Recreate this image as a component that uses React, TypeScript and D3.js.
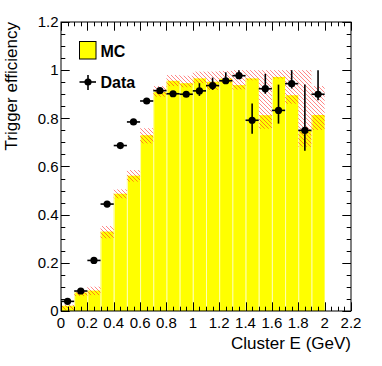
import * as d3 from 'd3'

// bin edges (GeV) and centers
const binLow = [0, 0.1, 0.2, 0.3, 0.4, 0.5, 0.6, 0.7, 0.8, 0.9, 1.0, 1.1, 1.2, 1.3, 1.4, 1.5, 1.6, 1.7, 1.8, 1.9]
const binCenter = [0.05, 0.15, 0.25, 0.35, 0.45, 0.55, 0.65, 0.75, 0.85, 0.95, 1.05, 1.15, 1.25, 1.35, 1.45, 1.55, 1.65, 1.75, 1.85, 1.95]
const binWidth = 0.1

// MC efficiency with its uncertainty band
const mcValue = [0.022, 0.077, 0.085, 0.33, 0.487, 0.562, 0.73, 0.91, 0.956, 0.946, 0.966, 0.952, 0.965, 0.938, 0.966, 0.813, 0.972, 0.896, 0.752, 0.814]
const mcLow = [0.005, 0.062, 0.066, 0.302, 0.468, 0.537, 0.696, 0.89, 0.934, 0.929, 0.946, 0.918, 0.946, 0.92, 0.958, 0.757, 0.965, 0.861, 0.682, 0.752]
const mcHigh = [0.026, 0.081, 0.101, 0.353, 0.505, 0.585, 0.759, 0.934, 0.98, 0.977, 0.994, 0.994, 0.997, 1.0, 1.0, 1.0, 1.0, 1.0, 1.0, 0.934]

// data efficiency
const dataY = [0.04, 0.083, 0.21, 0.444, 0.687, 0.785, 0.872, 0.915, 0.902, 0.9, 0.914, 0.936, 0.956, 0.977, 0.792, 0.923, 0.833, 0.944, 0.75, 0.9]
const dataErrUp = [0.005, 0.006, 0.008, 0.01, 0.01, 0.01, 0.008, 0.008, 0.008, 0.01, 0.032, 0.033, 0.035, 0.023, 0.07, 0.062, 0.107, 0.056, 0.19, 0.1]
const dataErrDown = [0.005, 0.006, 0.008, 0.01, 0.01, 0.01, 0.008, 0.008, 0.008, 0.01, 0.021, 0.018, 0.01, 0.01, 0.056, 0.021, 0.055, 0.02, 0.085, 0.025]

const xTicks = [0, 0.2, 0.4, 0.6, 0.8, 1, 1.2, 1.4, 1.6, 1.8, 2, 2.2]
const yTicks = [0, 0.2, 0.4, 0.6, 0.8, 1, 1.2]

const font = 'Liberation Sans, Arial, Helvetica, sans-serif'

export default function App() {
  const W = 382
  const H = 366
  const left = 61, right = 351, top = 22, bottom = 311

  const x = d3.scaleLinear().domain([0, 2.2]).range([left, right])
  const y = d3.scaleLinear().domain([0, 1.2]).range([bottom, top])

  const xMinor = d3.range(0, 2.2001, 0.05)
  const yMinor = d3.range(0, 1.2001, 0.05)
  const majLen = 8.7
  const minLen = 4.3

  const isMajor = (v: number) => Math.abs(v / 0.2 - Math.round(v / 0.2)) < 1e-6

  return (
    <svg width={W} height={H} style={{ position: 'absolute', left: 0, top: 0, background: '#fff' }}>
      <defs>
        <pattern id="hatch" patternUnits="userSpaceOnUse" width="4" height="4">
          <path d="M-1,-1 L5,5 M-1,3 L1,5 M3,-1 L5,1" stroke="#ff2020" strokeWidth="0.9" strokeOpacity="0.6" />
        </pattern>
        <clipPath id="frame">
          <rect x={left} y={top} width={right - left} height={bottom - top} />
        </clipPath>
      </defs>

      {/* MC bars */}
      <g clipPath="url(#frame)">
        {binLow.map((b, i) => (
          <rect key={'b' + i} x={x(b)} y={y(mcValue[i])} width={x(b + binWidth) - x(b)} height={y(0) - y(mcValue[i])} fill="#ffff00" />
        ))}
        {binLow.map((b, i) => i > 0 ? (
          <line key={'s' + i} x1={x(b) + 0.5} x2={x(b) + 0.5} y1={y(0)} y2={y(mcValue[i])} stroke="#ffffb8" strokeWidth={1} />
        ) : null)}
        {binLow.map((b, i) => (
          <rect key={'h' + i} x={x(b)} y={y(mcHigh[i])} width={x(b + binWidth) - x(b)} height={y(mcLow[i]) - y(mcHigh[i])} fill="url(#hatch)" />
        ))}
      </g>

      {/* data points */}
      <g>
        {binCenter.map((c, i) => (
          <g key={'d' + i}>
            <line x1={x(c - binWidth / 2)} x2={x(c + binWidth / 2)} y1={y(dataY[i])} y2={y(dataY[i])} stroke="#000" strokeWidth={1.6} />
            <line x1={x(c)} x2={x(c)} y1={y(dataY[i] + dataErrUp[i])} y2={y(dataY[i] - dataErrDown[i])} stroke="#000" strokeWidth={1.6} />
            <circle cx={x(c)} cy={y(dataY[i])} r={3.6} fill="#000" />
          </g>
        ))}
      </g>

      {/* frame */}
      <rect x={left} y={top} width={right - left} height={bottom - top} fill="none" stroke="#000" strokeWidth={1} />

      {/* ticks */}
      <g stroke="#000" strokeWidth={1}>
        {xMinor.map((v, i) => {
          const l = isMajor(v) ? majLen : minLen
          const px = Math.round(x(v)) + 0.5
          return (
            <g key={'xt' + i}>
              <line x1={px} x2={px} y1={bottom} y2={bottom - l} />
              <line x1={px} x2={px} y1={top} y2={top + l} />
            </g>
          )
        })}
        {yMinor.map((v, i) => {
          const l = isMajor(v) ? majLen : minLen
          const py = Math.round(y(v)) + 0.5
          return (
            <g key={'yt' + i}>
              <line x1={left} x2={left + l} y1={py} y2={py} />
              <line x1={right} x2={right - l} y1={py} y2={py} />
            </g>
          )
        })}
      </g>

      {/* tick labels */}
      <g fontFamily={font} fontSize={15} fill="#000">
        {xTicks.map((v, i) => (
          <text key={'xl' + i} x={x(v)} y={327.5} textAnchor="middle">{d3.format('~g')(v)}</text>
        ))}
        {yTicks.map((v, i) => (
          <text key={'yl' + i} x={58.5} y={y(v) + 5.3} textAnchor="end">{d3.format('~g')(v)}</text>
        ))}
      </g>

      {/* axis titles */}
      <text x={right} y={348.5} textAnchor="end" fontFamily={font} fontSize={17}>Cluster E (GeV)</text>
      <text transform={`translate(16.5,${top}) rotate(-90)`} textAnchor="end" fontFamily={font} fontSize={17}>Trigger efficiency</text>

      {/* legend */}
      <g>
        <rect x={79.5} y={41.5} width={16.5} height={17.5} fill="#ffff00" stroke="#000" strokeWidth={1} />
        <text x={100.5} y={56.5} fontFamily={font} fontSize={16} fontWeight="bold">MC</text>
        <line x1={79.5} x2={96} y1={82} y2={82} stroke="#000" strokeWidth={1.6} />
        <line x1={88} x2={88} y1={75} y2={90} stroke="#000" strokeWidth={1.6} />
        <circle cx={88} cy={82} r={3.6} fill="#000" />
        <text x={100.5} y={88} fontFamily={font} fontSize={16} fontWeight="bold">Data</text>
      </g>
    </svg>
  )
}
